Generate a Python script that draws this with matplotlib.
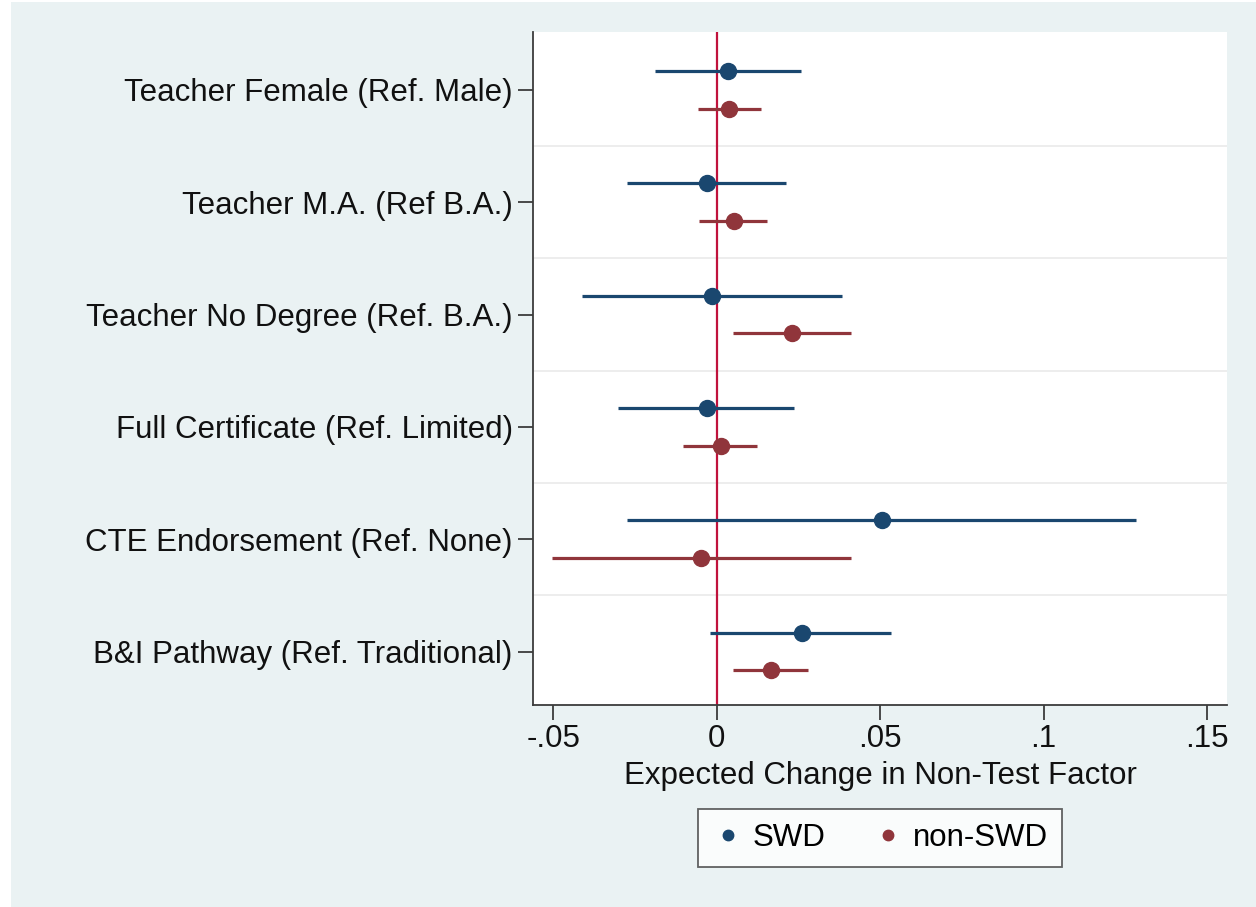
#!/usr/bin/env python
# -*- coding: utf-8 -*-
import matplotlib

matplotlib.use("Agg")
import matplotlib.pyplot as plt
import numpy as np


font = {"family": ["Liberation Sans", "DejaVu Sans"], "size": 22.5}
matplotlib.rc("font", **font)

####################################################
# Data

labels = [
    "Teacher Female (Ref. Male)",
    "Teacher M.A. (Ref B.A.)",
    "Teacher No Degree (Ref. B.A.)",
    "Full Certificate (Ref. Limited)",
    "CTE Endorsement (Ref. None)",
    "B&I Pathway (Ref. Traditional)",
]

swd_est = [0.0035, -0.0030, -0.0015, -0.0031, 0.0505, 0.0260]
swd_lo = [-0.0189, -0.0275, -0.0413, -0.0303, -0.0273, -0.0020]
swd_hi = [0.0257, 0.0212, 0.0382, 0.0237, 0.1284, 0.0533]

non_est = [0.0038, 0.0053, 0.0231, 0.0012, -0.0048, 0.0165]
non_lo = [-0.0057, -0.0054, 0.0051, -0.0102, -0.0505, 0.0051]
non_hi = [0.0136, 0.0154, 0.0410, 0.0122, 0.0410, 0.0280]

xticks = [-0.05, 0, 0.05, 0.1, 0.15]
xticklabels = ["-.05", "0", ".05", ".1", ".15"]

###################################
# Style (Stata s2color-ish)

bg = "#EAF2F3"
navy = "#1A476F"
maroon = "#90353B"
zero_col = "#C0123C"
axis_col = "#3C3C3C"
fs = 22.5

fig = plt.figure(figsize=(12.56, 9.07), dpi=100, facecolor="white")
# light background panel, leaving the thin white border of the original image
fig.patches.append(
    plt.Rectangle((11 / 1256, 0), 1, 1 - 2 / 907, transform=fig.transFigure,
                  facecolor=bg, edgecolor="none", zorder=-10)
)

ax = fig.add_axes([533 / 1256, 1 - 705 / 907, (1227 - 533) / 1256, (705 - 32) / 907])
ax.set_facecolor("white")

y = np.arange(len(labels))
off = 0.168

# grid between categories
for g in y[:-1] + 0.5:
    ax.axhline(g, color="#EDEDED", lw=1.4, zorder=0)

ax.axvline(0, color=zero_col, lw=1.6, zorder=1)

for est, lo, hi, col, dy, name in [
    (swd_est, swd_lo, swd_hi, navy, -off, "SWD"),
    (non_est, non_lo, non_hi, maroon, off, "non-SWD"),
]:
    est = np.array(est)
    ax.hlines(y + dy, lo, hi, color=col, lw=2.3, zorder=2)
    ax.plot(est, y + dy, "o", color=col, markersize=11.5, zorder=3,
            label=name, linestyle="none")

ax.set_xlim(-0.0562, 0.1561)
ax.set_ylim(len(labels) - 1 + 0.476, -0.516)

ax.set_yticks(y)
ax.set_yticklabels(labels)
ax.set_xticks(xticks)
ax.set_xticklabels(xticklabels)

for s in ["top", "right"]:
    ax.spines[s].set_visible(False)
for s in ["left", "bottom"]:
    ax.spines[s].set_color(axis_col)
    ax.spines[s].set_linewidth(1.3)

ax.tick_params(axis="both", direction="out", length=10.5, width=1.3,
               color=axis_col, labelcolor="#111111", labelsize=fs)
ax.tick_params(axis="y", pad=4)
ax.tick_params(axis="x", pad=3)

ax.set_xlabel("Expected Change in Non-Test Factor", fontsize=fs,
              color="#111111", labelpad=5)

leg_handles = [
    plt.Line2D([], [], marker="o", linestyle="none", color=navy, markersize=7.5),
    plt.Line2D([], [], marker="o", linestyle="none", color=maroon, markersize=7.5),
]
leg = fig.legend(leg_handles, ["SWD", "non-SWD"], ncol=2, loc="center",
                 bbox_to_anchor=(880 / 1256, 1 - 838 / 907), frameon=True,
                 fancybox=False, fontsize=fs, handletextpad=0.3,
                 columnspacing=1.5, borderpad=0.45, handlelength=1.0)
leg.get_frame().set_edgecolor(axis_col)
leg.get_frame().set_linewidth(1.3)
leg.get_frame().set_facecolor("white")

plt.savefig("out.png", dpi=100, facecolor=fig.get_facecolor())
plt.close("all")
